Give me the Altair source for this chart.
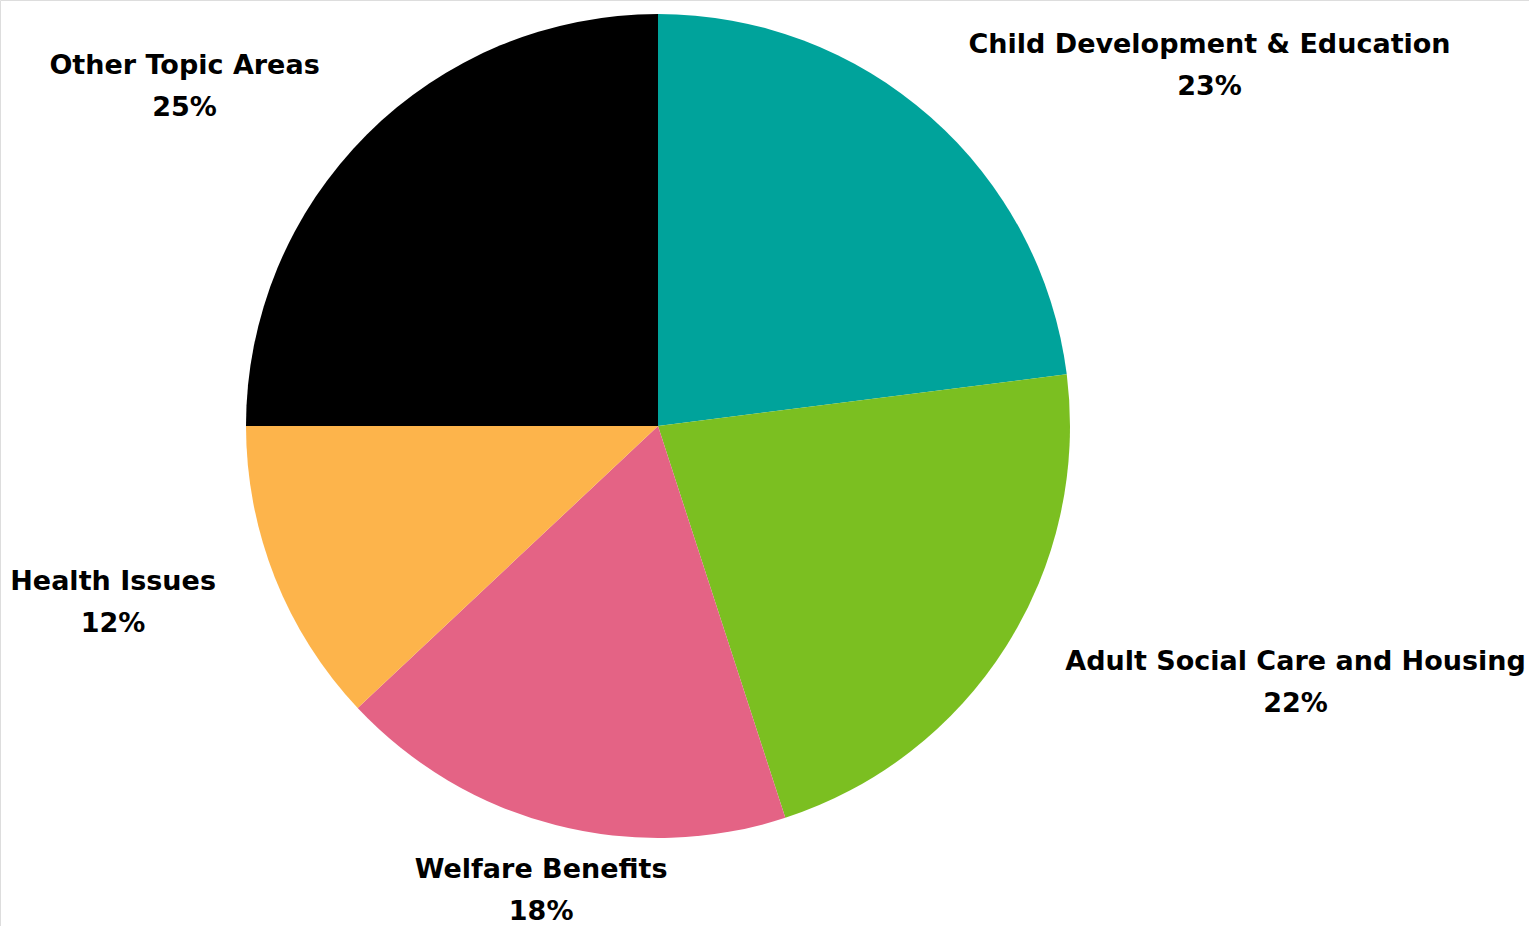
import altair as alt
import pandas as pd

categories = [
    "Child Development & Education",
    "Adult Social Care and Housing",
    "Welfare Benefits",
    "Health Issues",
    "Other Topic Areas",
]
shares = [23, 22, 18, 12, 25]
colors = ["#00A39B", "#7BBF21", "#E46385", "#FDB44B", "#000000"]

df = pd.DataFrame({"category": categories, "share": shares, "order": list(range(len(categories)))})

CX, CY, R = 658, 426, 412
LRX, LRY = 470, 480
CHAR_HALF = 8.3
FONT = "DejaVu Sans"
FS = 27

base = alt.Chart(df)

pie = base.mark_arc(outerRadius=R).encode(
    theta=alt.Theta("share:Q", stack=True),
    color=alt.Color("category:N", scale=alt.Scale(domain=categories, range=colors), legend=None),
    order=alt.Order("order:Q"),
    x=alt.value(CX),
    y=alt.value(CY),
)

lab = (
    base.transform_joinaggregate(total="sum(share)")
    .transform_window(cum="sum(share)", sort=[alt.SortField("order")], frame=[None, 0])
    .transform_calculate(mid="(datum.cum - datum.share/2)/datum.total*2*PI")
    .transform_calculate(
        side="sin(datum.mid) > 0.5 ? 1 : (sin(datum.mid) < -0.5 ? -1 : 0)",
        pct="datum.share + '%'",
    )
    .transform_calculate(
        px=f"{CX} + {LRX}*sin(datum.mid) + datum.side*length(datum.category)*{CHAR_HALF}",
        py=f"{CY} - {LRY}*cos(datum.mid)",
    )
)

name_txt = lab.mark_text(font=FONT, fontSize=FS, fontWeight="bold", align="center", baseline="middle", dy=-21, color="#000000").encode(
    x=alt.X("px:Q", scale=None, axis=None),
    y=alt.Y("py:Q", scale=None, axis=None),
    text="category:N",
)
pct_txt = lab.mark_text(font=FONT, fontSize=FS, fontWeight="bold", align="center", baseline="middle", dy=21, color="#000000").encode(
    x=alt.X("px:Q", scale=None, axis=None),
    y=alt.Y("py:Q", scale=None, axis=None),
    text="pct:N",
)

chart = (
    alt.layer(pie, name_txt, pct_txt)
    .properties(width=1529, height=926, padding=0, autosize=alt.AutoSizeParams(type="none"))
    .configure_view(stroke=None)
    .configure(background="white")
)

chart.save("out.html", embed_options={"renderer": "svg", "actions": False})
